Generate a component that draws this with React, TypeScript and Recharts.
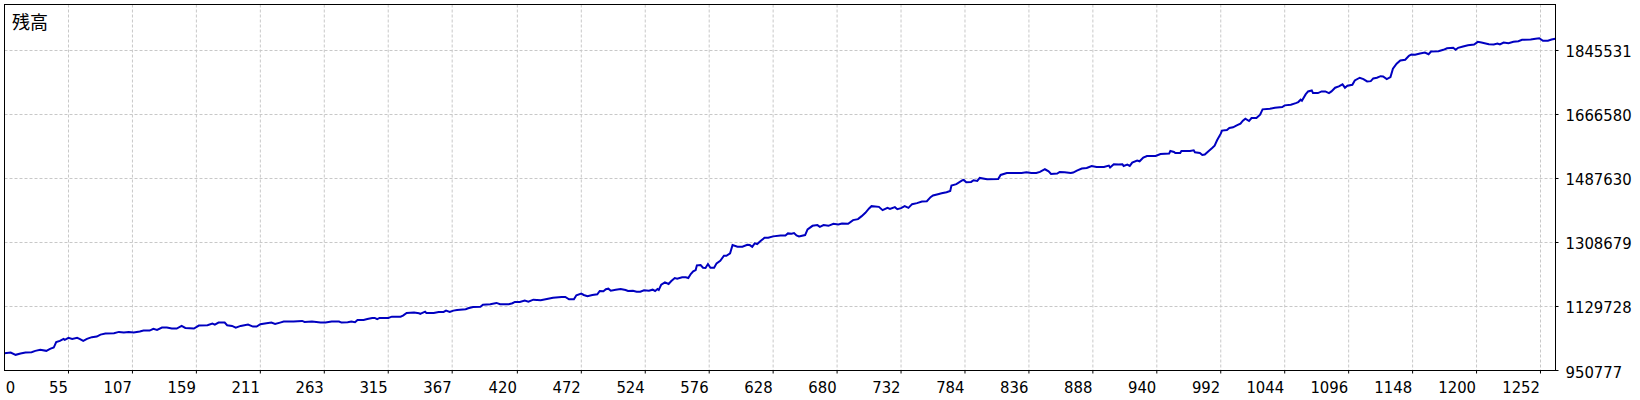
import { LineChart, Line, XAxis, YAxis, CartesianGrid } from "recharts";

// trade number / balance pairs
const TRADE_NO = [
  3, 8, 12, 16, 20, 25, 28, 32, 37, 40, 43, 45, 48, 51, 52, 55, 58, 62, 64, 67,
  70, 74, 78, 81, 85, 92, 96, 100, 104, 108, 113, 116, 121, 124, 127, 131, 135, 139, 143, 147,
  150, 157, 161, 168, 172, 174, 177, 182, 184, 188, 191, 195, 201, 205, 208, 211, 216, 220, 223, 227,
  230, 238, 245, 247, 253, 260, 264, 269, 275, 277, 282, 285, 288, 290, 295, 298, 302, 304, 306, 308,
  315, 318, 325, 327, 330, 336, 340, 341, 345, 346, 352, 356, 360, 362, 365, 368, 371, 378, 380, 384,
  390, 392, 398, 403, 406, 413, 416, 418, 422, 426, 429, 433, 439, 444, 449, 456, 459, 462, 466, 468,
  472, 474, 477, 481, 485, 487, 490, 492, 494, 496, 500, 504, 508, 510, 514, 517, 520, 523, 527, 530,
  532, 534, 535, 537, 540, 543, 545, 548, 550, 554, 557, 559, 561, 563, 565, 566, 569, 571, 573, 575,
  577, 580, 582, 585, 588, 590, 593, 595, 599, 603, 607, 609, 611, 613, 615, 618, 621, 624, 628, 634,
  638, 640, 643, 645, 647, 649, 654, 656, 660, 664, 666, 669, 673, 677, 681, 684, 689, 693, 697, 700,
  703, 706, 708, 714, 717, 721, 723, 727, 729, 732, 735, 738, 741, 745, 749, 753, 756, 758, 762, 765,
  769, 772, 773, 777, 782, 783, 785, 789, 791, 794, 796, 802, 811, 813, 818, 821, 830, 834, 838, 842,
  845, 849, 852, 854, 859, 861, 865, 870, 872, 875, 879, 883, 887, 891, 897, 901, 902, 905, 909, 912,
  913, 916, 918, 920, 924, 926, 929, 932, 939, 943, 950, 951, 954, 955, 959, 960, 967, 970, 971, 975,
  977, 979, 982, 985, 987, 989, 992, 993, 997, 999, 1002, 1005, 1008, 1010, 1012, 1015, 1017, 1021, 1024, 1026,
  1032, 1036, 1042, 1044, 1049, 1053, 1055, 1057, 1058, 1061, 1063, 1066, 1067, 1071, 1074, 1077, 1080, 1082, 1085, 1088,
  1091, 1093, 1095, 1099, 1101, 1105, 1108, 1111, 1114, 1116, 1119, 1122, 1124, 1127, 1130, 1132, 1135, 1138, 1142, 1145,
  1147, 1150, 1154, 1158, 1161, 1163, 1169, 1173, 1176, 1181, 1183, 1185, 1189, 1193, 1198, 1201, 1204, 1210, 1214, 1217,
  1219, 1222, 1226, 1230, 1234, 1237, 1244, 1248, 1251, 1254, 1258, 1261, 1264,
];

const BALANCE = [
  999300, 1001000, 994600, 998200, 1001000, 1002100, 1005700, 1008500, 1005700, 1011300,
  1014900, 1030000, 1033600, 1039200, 1036400, 1042000, 1039200, 1042000, 1039200, 1033600,
  1039200, 1044000, 1045600, 1051200, 1054000, 1055100, 1058700, 1056800, 1058700, 1056800,
  1059600, 1062400, 1062400, 1067100, 1064300, 1070700, 1070700, 1068000, 1068000, 1075500,
  1069900, 1068000, 1076300, 1077400, 1081900, 1079100, 1084700, 1084700, 1077400, 1075500,
  1070700, 1075500, 1079100, 1073500, 1073500, 1080200, 1083000, 1084700, 1081100, 1084700,
  1087500, 1087500, 1089400, 1086700, 1087500, 1084700, 1084700, 1087500, 1087500, 1084700,
  1085800, 1087500, 1085800, 1092200, 1092200, 1095000, 1097800, 1097800, 1094200, 1097800,
  1097800, 1101400, 1101400, 1104200, 1111800, 1112600, 1110900, 1109000, 1115400, 1111800,
  1111800, 1114600, 1114600, 1118200, 1114600, 1118200, 1120100, 1122100, 1124900, 1128500,
  1129300, 1134900, 1136000, 1139700, 1136000, 1136000, 1138800, 1142500, 1142500, 1146100,
  1143300, 1148900, 1147200, 1150800, 1154400, 1156400, 1156400, 1150000, 1150000, 1161100,
  1165600, 1162000, 1158400, 1162000, 1163900, 1173100, 1172300, 1177900, 1179600, 1174000,
  1176800, 1178700, 1175900, 1173100, 1174000, 1171200, 1171200, 1175100, 1174000, 1176800,
  1173100, 1178700, 1175900, 1190700, 1197400, 1192700, 1200200, 1209400, 1207500, 1211400,
  1211400, 1209400, 1220600, 1228100, 1231700, 1244800, 1245700, 1238100, 1237300, 1248500,
  1238100, 1238100, 1250400, 1257700, 1271600, 1271600, 1278300, 1301500, 1296700, 1296700,
  1302300, 1301500, 1296700, 1306200, 1304300, 1313500, 1321800, 1321800, 1325800, 1328500,
  1328500, 1334100, 1333000, 1335000, 1328500, 1325800, 1329400, 1345300, 1355300, 1357300,
  1352500, 1357300, 1355300, 1360900, 1359200, 1362000, 1360900, 1371200, 1374000, 1382400,
  1391600, 1403900, 1410300, 1408300, 1399100, 1405500, 1402800, 1407500, 1401900, 1404700,
  1410300, 1405500, 1415900, 1418700, 1423400, 1424200, 1435400, 1440100, 1443800, 1446600,
  1449400, 1453000, 1468000, 1471700, 1482800, 1483700, 1477300, 1478100, 1482800, 1480900,
  1489200, 1485600, 1486500, 1497600, 1503200, 1503200, 1503200, 1505200, 1503200, 1503200,
  1506000, 1513500, 1507900, 1500400, 1501500, 1506000, 1505200, 1503200, 1504300, 1509900,
  1515500, 1517100, 1522700, 1519900, 1519900, 1523800, 1518300, 1527500, 1526600, 1527500,
  1522700, 1526600, 1522700, 1532200, 1537800, 1535800, 1546200, 1550600, 1550600, 1556200,
  1557300, 1564600, 1561800, 1559000, 1559000, 1564600, 1564600, 1566500, 1561000, 1559000,
  1553400, 1554500, 1563700, 1572900, 1579600, 1594400, 1613100, 1621500, 1623200, 1628700,
  1630700, 1636300, 1641000, 1649400, 1655000, 1648300, 1656600, 1656600, 1666100, 1680900,
  1682900, 1685700, 1687300, 1692100, 1694000, 1698500, 1701300, 1708000, 1705200, 1722800,
  1731100, 1733900, 1726400, 1726400, 1731100, 1731100, 1726400, 1731100, 1741500, 1745100,
  1750700, 1741500, 1747000, 1749800, 1761800, 1769400, 1765500, 1759000, 1759900, 1767400,
  1769400, 1773800, 1773000, 1765500, 1771000, 1794500, 1808400, 1817600, 1819600, 1830700,
  1834400, 1833500, 1837200, 1840000, 1835200, 1842700, 1843600, 1847500, 1851900, 1853100,
  1847500, 1853100, 1856700, 1860300, 1862300, 1869800, 1867900, 1863100, 1862300, 1865100,
  1862300, 1867900, 1865900, 1869800, 1871500, 1875400, 1876200, 1878200, 1879800, 1872600,
  1872600, 1876200, 1878200,
];

const X_TICKS = [
  0, 55, 107, 159, 211, 263, 315, 367, 420, 472, 524, 576, 628, 680, 732, 784, 836, 888, 940, 992,
  1044, 1096, 1148, 1200, 1252,
];
const Y_TICKS = [950777, 1129728, 1308679, 1487630, 1666580, 1845531];

const X_DOMAIN: [number, number] = [2.96, 1264.2];
const Y_DOMAIN: [number, number] = [950777, 1974150];

const FONT = "'DejaVu Sans Condensed', 'Liberation Sans', sans-serif";

const data = TRADE_NO.map((t, i) => ({ trade: t, balance: BALANCE[i] }));

function XTick({ x, y, payload }: any) {
  if (payload.value === 0) {
    return (
      <text x={x + 5} y={y + 22} textAnchor="start" fontSize={16.5} fontFamily={FONT} fill="#000">
        0
      </text>
    );
  }
  return (
    <g>
      <line x1={x} y1={y} x2={x} y2={y + 3} stroke="#000" />
      <text x={x - 0.5} y={y + 22} textAnchor="end" fontSize={16.5} fontFamily={FONT} fill="#000">
        {payload.value}
      </text>
    </g>
  );
}

function YTick({ x, y, payload }: any) {
  return (
    <g>
      <line x1={x} y1={y} x2={x + 3} y2={y} stroke="#000" />
      <text x={x + 10} y={y + 7} textAnchor="start" fontSize={16.5} fontFamily={FONT} fill="#000">
        {payload.value}
      </text>
    </g>
  );
}

export default function App() {
  return (
    <div style={{ position: "absolute", left: 0, top: 0, width: 1640, height: 400, background: "#fff" }}>
      <LineChart
        width={1640}
        height={400}
        data={data}
        margin={{ top: 4.5, right: 0, bottom: 0, left: 4.5 }}
      >
        <CartesianGrid
          stroke="#c8c8c8"
          strokeDasharray="3 2"
          verticalValues={X_TICKS.slice(1)}
        />
        <XAxis
          type="number"
          dataKey="trade"
          domain={X_DOMAIN}
          allowDataOverflow
          ticks={X_TICKS}
          interval={0}
          height={29.5}
          axisLine={false}
          tickLine={false}
          tickSize={0}
          tickMargin={0}
          tick={<XTick />}
        />
        <YAxis
          orientation="right"
          type="number"
          domain={Y_DOMAIN}
          allowDataOverflow
          ticks={Y_TICKS}
          interval={0}
          width={84.5}
          axisLine={false}
          tickLine={false}
          tickSize={0}
          tickMargin={0}
          tick={<YTick />}
        />
        <Line
          type="linear"
          dataKey="balance"
          stroke="#0000c0"
          strokeWidth={2}
          dot={false}
          activeDot={false}
          isAnimationActive={false}
        />
      </LineChart>
      {/* plot frame */}
      <div
        style={{
          position: "absolute",
          left: 4,
          top: 4,
          width: 1552,
          height: 367,
          boxSizing: "border-box",
          border: "1px solid #000",
          pointerEvents: "none",
        }}
      />
      <div
        style={{
          position: "absolute",
          left: 12,
          top: 11,
          fontSize: 18,
          lineHeight: "20px",
          fontFamily: "'Noto Sans CJK JP', sans-serif",
          color: "#000",
        }}
      >
        残高
      </div>
    </div>
  );
}
